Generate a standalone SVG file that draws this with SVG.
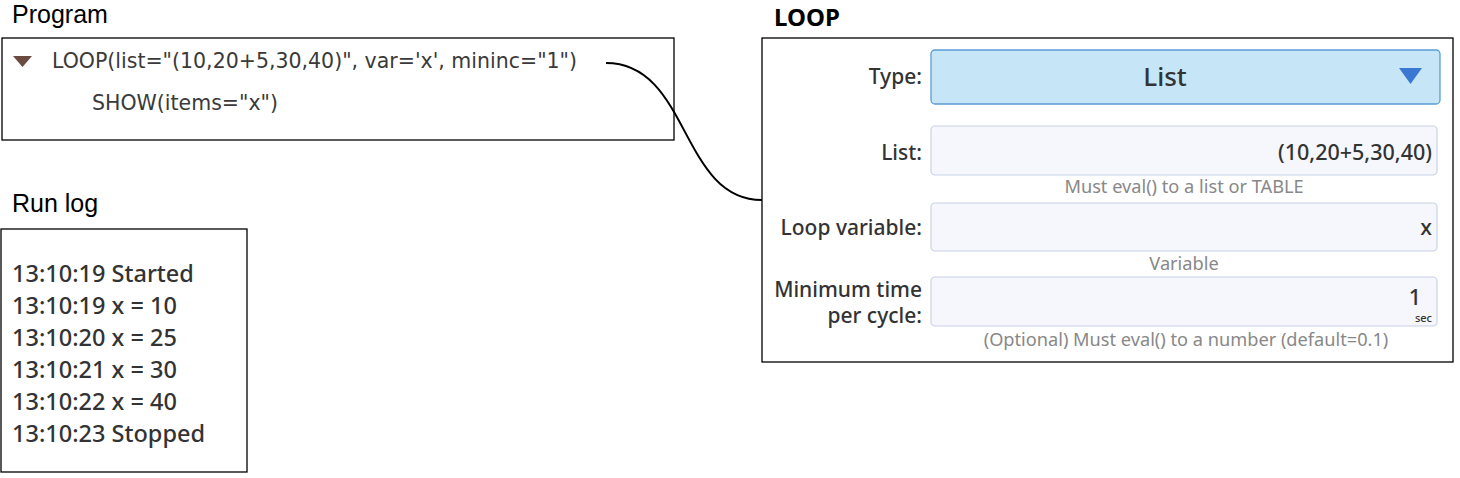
<svg xmlns="http://www.w3.org/2000/svg" width="1460" height="478" viewBox="0 0 1460 478">
<style>
.title{font-family:"Liberation Sans",Arial,sans-serif;font-size:25px;fill:#000}
.box{fill:#fff;stroke:#000;stroke-width:1.3}
.code{font-family:"DejaVu Sans",sans-serif;font-size:20.5px;fill:#3a3a3a}
.log{font-family:"Noto Sans","Open Sans",sans-serif;font-size:23.5px;font-weight:500;fill:#333}
.lbl{font-family:"Noto Sans","Open Sans",sans-serif;font-size:21px;font-weight:500;fill:#333;text-anchor:end}
.val{font-family:"Noto Sans","Open Sans",sans-serif;font-size:21.5px;font-weight:500;fill:#333;text-anchor:end}
.help{font-family:"Noto Sans","Open Sans",sans-serif;font-size:18.2px;fill:#888;text-anchor:middle}
.field{fill:#f5f7fd;stroke:#c8d2e8;stroke-width:1.2}
</style>
<g id="program">
<text class="title" x="12" y="23">Program</text>
<rect class="box" x="2" y="38" width="672" height="102"/>
<polygon points="13,56 32,56 22.5,67" fill="#6b4a40"/>
<text class="code" x="52" y="68">LOOP(list="(10,20+5,30,40)", var='x', mininc="1")</text>
<text class="code" x="92" y="110">SHOW(items="x")</text>
</g>
<g id="runlog">
<text class="title" x="12" y="212">Run log</text>
<rect class="box" x="1" y="229" width="246" height="243"/>
<text class="log" x="12" y="282">13:10:19 Started</text>
<text class="log" x="12" y="314">13:10:19 x = 10</text>
<text class="log" x="12" y="346">13:10:20 x = 25</text>
<text class="log" x="12" y="378">13:10:21 x = 30</text>
<text class="log" x="12" y="410">13:10:22 x = 40</text>
<text class="log" x="12" y="442">13:10:23 Stopped</text>
</g>
<g id="loop">
<text x="774" y="26" font-family="Noto Sans,Open Sans,sans-serif" font-size="24" font-weight="bold" fill="#000">LOOP</text>
<rect class="box" x="762" y="38" width="691" height="324"/>
<text class="lbl" x="922" y="84">Type:</text>
<rect x="931" y="50" width="509" height="54" rx="4" fill="#c6e6f7" stroke="#5b9bd8" stroke-width="1.3"/>
<text x="1165" y="86" font-family="Noto Sans,Open Sans,sans-serif" font-size="26" font-weight="500" fill="#333" text-anchor="middle">List</text>
<polygon points="1399,68 1422,68 1410.5,84" fill="#3b78d2"/>
<text class="lbl" x="922" y="160">List:</text>
<rect class="field" x="931" y="126" width="506" height="49" rx="4"/>
<text class="val" x="1432" y="160">(10,20+5,30,40)</text>
<text class="help" x="1184" y="193">Must eval() to a list or TABLE</text>
<text class="lbl" x="922" y="235">Loop variable:</text>
<rect class="field" x="931" y="203" width="506" height="48" rx="4"/>
<text class="val" x="1432" y="235">x</text>
<text class="help" x="1184" y="270">Variable</text>
<text class="lbl" x="922" y="297">Minimum time</text>
<text class="lbl" x="922" y="323">per cycle:</text>
<rect class="field" x="931" y="277" width="506" height="49" rx="4"/>
<text class="val" x="1421" y="305">1</text>
<text x="1432" y="322" font-family="Noto Sans,Open Sans,sans-serif" font-size="11" font-weight="500" fill="#333" text-anchor="end">sec</text>
<text class="help" x="1186" y="346">(Optional) Must eval() to a number (default=0.1)</text>
</g>
<g id="connectors">
<path d="M606,63 C690,63 680,200 762,200" fill="none" stroke="#000" stroke-width="2"/>
</g>
</svg>
